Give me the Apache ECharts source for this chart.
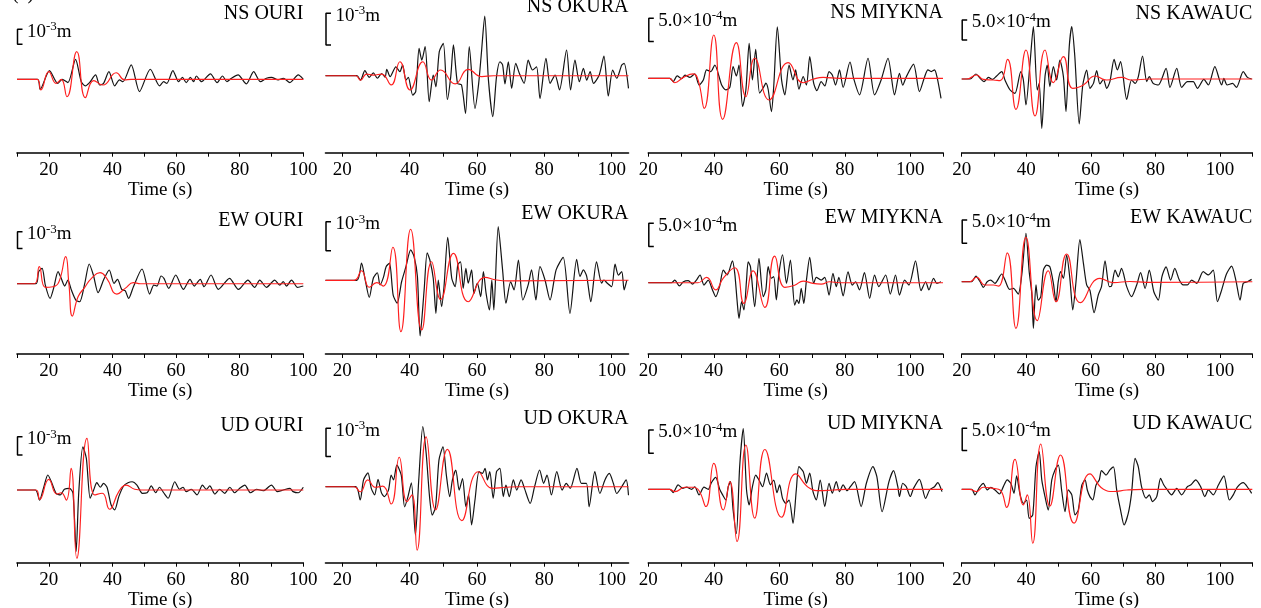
<!DOCTYPE html>
<html><head><meta charset="utf-8">
<script src="https://cdn.jsdelivr.net/npm/echarts@6/dist/echarts.min.js"></script>
<style>html,body{margin:0;padding:0;background:#fff}#c{width:1261px;height:608px}</style>
</head><body><div id="c"></div><script>
// ---------------- DATA (amplitudes in multiples of each panel's scale bar, time in s) ----------------
const stations = ['OURI', 'OKURA', 'MIYKNA', 'KAWAUC'];
const components = ['NS', 'EW', 'UD'];
const scaleBarText = [['10', '-3'], ['10', '-3'], ['5.0×10', '-4'], ['5.0×10', '-4']];
const xRanges = [[10, 100], [15, 105], [20, 110], [20, 110]];
const xTickValues = [[10,20,30,40,50,60,70,80,90,100],[20,30,40,50,60,70,80,90,100],[20,30,40,50,60,70,80,90,100,110],[20,30,40,50,60,70,80,90,100,110]];
const xLabelValues = [20, 40, 60, 80, 100];
const xAxisName = 'Time (s)';

// observed (black) and synthetic (red) traces
const obs_NS_OURI = [[10,0],[16.5,0],[17.3,-0.67],[20.2,0.58],[22.8,-0.27],[24.2,0],[26.0,-0.22],[28.4,1.33],[30.2,-0.16],[31.5,-0.44],[32.8,-0.22],[34.7,0.29],[36.0,-0.38],[37.2,-0.27],[38.9,0.51],[40.7,-0.44],[42.2,-0.04],[43.3,-0.16],[45.9,0.96],[48.5,-0.82],[51.9,0.67],[54.8,-0.44],[56.1,-0.16],[57.1,-0.27],[59.0,0.58],[60.8,-0.16],[62.0,0.13],[63.2,-0.22],[64.5,0.13],[65.5,-0.16],[66.4,0.22],[68.0,-0.16],[70.8,0.36],[72.9,-0.22],[74.6,0.22],[76.0,-0.16],[77.4,0.07],[79.5,0.29],[82.1,-0.31],[84.4,0.51],[86.5,-0.16],[88.4,0.07],[90.0,0.13],[92.1,-0.04],[93.7,0.07],[95.8,-0.22],[98.4,0.29],[100,0]];
const syn_NS_OURI = [[10,0],[16.3,0],[17.5,-0.71],[20.0,0.51],[22.3,-0.27],[23.9,0],[25.7,-1.16],[28.8,1.84],[31.5,-1.22],[34.1,-0.09],[37.0,-0.38],[41.2,0.44],[43.8,-0.04],[45.9,0],[100,0]];

const obs_NS_OKURA = [[15,0],[24.3,0],[25.4,-0.14],[26.7,0.16],[28.0,-0.05],[29.2,0.09],[30.4,-0.08],[31.7,0.07],[32.7,-0.05],[33.2,0.2],[34.2,-0.03],[35.9,0.28],[37.1,0.13],[37.9,0.34],[38.9,-0.14],[39.6,-0.05],[40.9,-0.61],[41.8,-0.5],[42.8,0.86],[43.6,0.49],[44.6,0.92],[45.8,-0.82],[47.0,0.02],[47.8,-0.35],[48.8,0.76],[50.0,1.02],[51.2,-0.75],[52.2,-0.03],[53.0,0.97],[54.2,-0.24],[55.4,-0.29],[56.6,-1.19],[57.7,0.92],[59.4,-1.03],[60.5,-0.24],[61.3,0.71],[62.3,1.88],[63.4,-0.14],[64.7,-1.29],[65.8,-0.03],[66.8,0.44],[67.6,0.34],[68.3,-0.26],[69.3,0.44],[70.3,-0.4],[71.5,0.39],[72.6,0.07],[74.0,-0.24],[75.2,0.49],[76.5,0.18],[77.7,0.28],[78.7,-0.72],[80.5,0.55],[81.7,-0.24],[83.2,0.02],[84.5,-0.45],[86.6,0.81],[87.8,-0.45],[89.1,0.49],[90.4,-0.19],[91.6,0.23],[92.6,-0.14],[93.6,0.13],[94.6,-0.24],[96.3,0.02],[97.7,0.62],[99.0,-0.64],[100.3,0.18],[101.5,-0.08],[103.0,0.34],[103.7,0.39],[105.0,-0.4]];
const syn_NS_OKURA = [[15,0],[24,0],[25.4,-0.14],[27.2,0.05],[29.2,0.02],[31.7,0.05],[34.5,-0.29],[37.1,0.44],[40.1,-0.45],[43.9,0.44],[46.5,-0.14],[49.2,0.18],[53.5,-0.26],[57.4,0.2],[61.4,-0.03],[64.9,0],[105,0]];

const obs_NS_MIYKNA = [[20,0],[26.6,0],[27.6,-0.14],[28.8,0.1],[30.2,-0.01],[31.2,0.14],[32.7,0.04],[34.2,0.19],[35.5,-0.29],[36.8,-0.07],[37.8,0.36],[39.1,0.29],[40.3,0.57],[42.4,-0.29],[43.7,-0.5],[44.9,-0.39],[45.9,0.5],[46.9,0.1],[47.7,0.57],[48.8,-1.21],[49.8,-0.5],[50.8,1.5],[51.8,-0.07],[52.8,1.24],[54.0,-0.64],[55.3,-0.36],[55.9,-0.21],[56.6,-0.47],[57.6,-1.43],[58.3,-0.36],[59.4,2.21],[60.7,-0.07],[61.7,-0.71],[63.0,0.57],[64.2,-0.07],[65.0,0.36],[66.0,-0.47],[67.3,0.07],[68.3,-0.29],[69.3,0.93],[70.5,-0.21],[71.5,-0.53],[72.8,-0.14],[73.9,-0.33],[75.2,0.29],[76.2,0.14],[77.2,-0.29],[78.4,0.36],[79.5,-0.39],[81.6,0.7],[82.7,0],[84.5,-0.71],[87.1,0.86],[89.1,-0.71],[91.1,-0.07],[93.2,0.86],[95.2,-0.71],[96.7,0.21],[97.7,-0.29],[98.8,0.07],[101.0,0.61],[102.8,-0.57],[104.4,0.07],[105.4,0.36],[106.4,0.29],[107.4,0.36],[108.2,0.04],[109.4,-0.86]];
const syn_NS_MIYKNA = [[20,0],[26.5,0],[28.1,-0.19],[30.7,0.04],[33.7,0.19],[35.2,-0.07],[37.1,-1.29],[40.0,1.86],[42.7,-1.76],[46.9,1.53],[49.8,-0.79],[52.5,0.86],[56.9,-0.93],[62.7,0.67],[67.3,-0.19],[70.3,-0.04],[73.4,0.04],[78.4,0],[110,0]];

const obs_NS_KAWAUC = [[20,0],[22.6,0],[24.4,0.25],[25.7,0.03],[26.9,-0.13],[28.3,0.08],[29.6,-0.02],[30.8,0.15],[32.4,0.37],[33.4,-0.05],[35.0,-0.55],[36.5,-0.72],[38.3,0.37],[39.1,-0.05],[39.9,-1.3],[41.2,0.87],[42.2,2.62],[43.4,-0.55],[44.0,-0.22],[44.8,-2.47],[45.8,0.12],[46.5,0.7],[47.3,-0.38],[48.4,0.62],[49.4,-0.05],[50.4,0.95],[51.5,0.12],[52.3,-1.63],[53.3,1.6],[54.1,2.62],[55.0,1.2],[56.4,-2.25],[57.5,-0.3],[58.7,0.45],[59.7,-0.47],[60.8,-0.22],[61.8,0.42],[62.8,-0.25],[63.9,-0.02],[64.9,-0.47],[65.9,-0.13],[67.2,0.98],[68.2,0.45],[69.2,0.87],[71.1,-1.02],[72.6,-0.05],[73.7,-0.22],[74.7,0.12],[76.0,1.15],[77.3,-0.13],[78.1,0.12],[79.3,-0.22],[80.9,-0.3],[83.3,0.53],[84.5,-0.42],[86.6,0.53],[88.1,-0.42],[89.9,-0.13],[91.7,-0.13],[93.0,-0.47],[95.0,-0.02],[96.4,-0.3],[98.4,0.62],[100.5,-0.3],[101.2,0.03],[102.2,-0.3],[103.9,-0.22],[105.1,-0.42],[107.2,0.37],[108.5,0.08],[109.8,0]];
const syn_NS_KAWAUC = [[20,0],[21.5,0],[24.6,0.2],[26.7,-0.02],[29.8,-0.05],[31.9,-0.08],[34.2,0.98],[36.8,-1.52],[39.9,1.45],[42.7,-1.85],[45.8,1.45],[48.4,-0.18],[51.5,1.12],[54.4,-0.47],[57.7,-0.3],[61.3,0.15],[64.9,-0.05],[69.5,0.08],[72.6,-0.05],[78.3,0],[110,0]];

const obs_EW_OURI = [[10,0],[16,0],[16.8,0.72],[17.9,0.92],[18.9,-0.08],[20.4,-0.88],[21.5,-0.28],[22.9,0.72],[23.9,0.32],[25.0,-0.14],[26.0,0.22],[27.1,-0.38],[28.5,-0.98],[29.7,-1.08],[31.3,0.02],[32.7,1.18],[34.0,0.52],[35.5,-0.54],[37.3,0.26],[39.0,0.82],[40.5,0.02],[41.6,0.26],[42.9,-0.34],[44.0,-0.42],[45.1,-0.88],[46.6,-0.18],[49.3,0.88],[51.7,-0.62],[53.0,-0.08],[54.0,-0.14],[55.3,0.46],[56.2,0.32],[57.7,-0.28],[59.9,0.52],[62.3,-0.34],[64.4,0.26],[65.7,-0.14],[67.6,0.26],[68.8,-0.18],[71.0,0.52],[73.3,-0.34],[76.8,0.32],[79.6,-0.34],[82.6,0.22],[84.7,-0.22],[86.3,0.22],[88.4,-0.22],[91.0,0.22],[92.6,-0.08],[93.7,0.12],[94.7,-0.14],[96.3,0.22],[98.2,-0.22],[100,-0.14]];
const syn_EW_OURI = [[10,0],[15.5,0],[17.0,1.02],[18.9,-0.22],[21.3,-0.18],[23.2,0.12],[25.3,1.62],[26.3,0.02],[27.4,-1.94],[29.2,-0.78],[31.3,-0.22],[33.4,0.32],[36.1,0.66],[38.2,0.32],[41.4,-0.62],[44.0,-0.28],[46.6,0.06],[48.8,0],[100,0]];

const obs_EW_OKURA = [[15,0],[24.3,0],[25.7,0.59],[26.7,0.07],[28.0,-0.59],[29.2,0.07],[30.4,0.26],[31.2,-0.16],[32.2,0.1],[33.0,0.47],[34.0,0.59],[35.1,-0.51],[36.3,-0.79],[37.6,-0.05],[38.9,0.47],[40.3,1.05],[41.3,0.82],[42.3,0.13],[43.1,-1.92],[44.3,-0.33],[45.2,0.95],[46.0,0.7],[47.0,0.07],[47.8,-1.14],[48.5,0.01],[49.5,-0.91],[50.2,-0.22],[51.3,1.48],[52.5,0.07],[53.5,-0.22],[54.3,0.53],[55.1,0.64],[55.9,-0.28],[56.7,0.41],[57.4,-0.1],[58.4,0.36],[59.1,-0.45],[60.1,-0.1],[61.1,-0.56],[61.9,0.3],[62.7,-0.45],[63.7,-1.02],[64.4,0.01],[65.0,-1.02],[66.3,1.85],[67.6,0.36],[68.6,-0.79],[70.0,-0.05],[71.0,-0.33],[72.3,0.7],[73.6,-0.68],[75.2,-0.16],[76.2,0.36],[77.5,-0.68],[78.7,0.47],[80.2,0.01],[81.7,-0.68],[83.5,0.36],[85.6,0.79],[87.6,-1.14],[89.6,0.72],[90.6,0.13],[91.6,0.36],[92.6,0.13],[93.8,-0.74],[95.5,0.64],[97.0,-0.1],[97.7,0.01],[98.7,-0.1],[100.0,-0.22],[101.0,0.56],[102.0,0.18],[103.0,0.3],[103.7,-0.33],[104.5,0.01]];
const syn_EW_OKURA = [[15,0],[23.5,0],[25.7,0.33],[28.0,-0.24],[30.2,-0.08],[32.2,-0.2],[35.0,1.14],[37.4,-1.77],[40.3,1.76],[43.6,-1.71],[46.5,0.64],[49.2,-0.66],[53.0,0.93],[57.4,-0.74],[62.4,0.1],[65.8,0.01],[69.3,-0.02],[105,0]];

const obs_EW_MIYKNA = [[20,0],[27.1,0],[28.1,0.11],[29.5,-0.14],[30.7,0.04],[32.2,0.09],[33.5,-0.06],[34.7,0.11],[35.8,0.33],[37.0,-0.1],[38.3,0.11],[39.6,-0.31],[40.6,-0.6],[41.8,-0.14],[42.9,0.54],[44.1,0.33],[45.7,0.94],[46.4,0.4],[47.1,-0.74],[47.7,-1.53],[48.5,-0.81],[49.2,-1.17],[50.0,0.11],[50.5,0.9],[51.2,0.69],[52.5,-1.03],[53.8,1.04],[55.1,-0.6],[55.9,-0.31],[56.6,0.69],[57.6,0.19],[58.3,0.26],[59.1,-0.74],[59.9,0.4],[61.0,1.19],[62.2,-0.03],[63.4,0.97],[64.7,-0.96],[65.4,-0.74],[66.0,-0.89],[66.7,-0.24],[67.5,-0.89],[68.3,0.11],[69.3,1.09],[70.5,-0.03],[71.3,0.23],[72.8,0.11],[73.9,0.23],[75.2,-0.53],[76.4,0.4],[77.4,-0.17],[78.2,0.23],[79.5,-0.57],[81.0,0.47],[82.3,-0.1],[83.3,0.04],[84.5,-0.31],[86.0,0.43],[87.6,-0.67],[89.1,0.33],[90.4,-0.17],[92.5,0.33],[93.9,-0.49],[95.5,0.33],[96.7,-0.53],[98.3,0.11],[99.6,-0.1],[101.6,0.94],[103.3,-0.34],[104.7,0.04],[105.7,-0.31],[107.1,0.19],[108.1,-0.03],[109.4,0.04]];
const syn_EW_MIYKNA = [[20,0],[33,0],[35.2,0],[37.8,0.23],[40.6,-0.31],[42.9,0.2],[46.4,0.64],[49.2,-0.89],[52.0,0.51],[55.6,-1.06],[58.6,1.14],[61.7,-0.2],[64.7,-0.11],[67.3,0.07],[70.3,-0.03],[72.8,-0.06],[75.4,0.04],[78.4,0],[110,0]];

const obs_EW_KAWAUC = [[20,0],[23.1,0],[24.4,0.24],[25.7,0],[26.7,-0.24],[27.9,0],[29.0,0.07],[30.3,-0.07],[32.4,0.33],[33.4,0.07],[34.8,-0.33],[36.0,-0.29],[37.5,-0.53],[38.6,0.29],[39.9,2.07],[40.9,0.43],[41.7,-0.5],[42.2,-2.0],[43.0,-0.14],[43.7,-0.79],[44.5,-0.64],[45.3,0.5],[46.3,0.71],[47.3,0.64],[48.4,-0.07],[49.2,-0.86],[49.9,0],[50.6,0.43],[51.5,0.14],[52.5,1.14],[53.5,0.14],[54.4,-1.21],[55.4,0],[56.6,1.81],[57.7,0.79],[58.7,-0.14],[59.7,-0.36],[61.0,-1.33],[62.3,-0.57],[63.3,-0.21],[64.4,0.9],[65.7,-0.21],[66.4,-0.19],[67.5,0.5],[68.5,0.21],[69.5,0.57],[71.1,-0.21],[72.6,-0.64],[74.2,-0.14],[75.4,0.39],[76.8,-0.29],[78.1,0.5],[79.5,-0.43],[80.9,-0.79],[82.0,0.21],[83.3,0.64],[84.7,0.07],[86.0,0.57],[87.4,0.07],[88.6,-0.14],[89.9,-0.14],[91.2,0.07],[92.8,-0.07],[94.8,0.43],[96.4,0.29],[97.9,0.5],[99.2,-0.86],[100.5,-0.36],[102.0,0.33],[103.6,0.67],[104.9,0.07],[106.2,-0.79],[107.2,-0.07],[108.5,0],[109.8,0.1]];
const syn_EW_KAWAUC = [[20,0],[22.5,0],[24.6,0.19],[27.2,-0.14],[29.8,-0.14],[31.4,-0.19],[34.1,1.24],[36.8,-2.0],[39.9,1.9],[43.4,-1.67],[46.8,0.47],[49.2,-0.86],[52.5,1.19],[56.8,-0.9],[62.8,0.14],[67.0,-0.04],[72.1,0.01],[77.3,-0.03],[110,0]];

const obs_UD_OURI = [[10,0],[15.8,0],[17.1,-0.55],[18.3,0.09],[19.7,0.82],[21.0,0.36],[22.3,-0.18],[23.6,-0.27],[24.9,0.04],[26.5,0.09],[27.6,-0.18],[28.6,-3.35],[29.4,-0.18],[30.7,2.36],[31.8,1.73],[33.0,-0.45],[34.1,0],[35.1,0.4],[36.2,0.15],[37.2,0.36],[38.3,0.15],[39.6,-0.82],[40.7,-1.09],[42.0,-0.36],[43.5,0.22],[44.9,0.4],[46.2,0.45],[47.7,0.27],[49.4,-0.18],[50.9,-0.15],[52.2,0.22],[53.6,-0.15],[54.8,0.15],[56.1,-0.15],[57.5,-0.45],[59.6,0.45],[61.1,0.04],[62.2,0.15],[63.2,-0.09],[64.8,0.04],[66.6,-0.27],[68.3,0.27],[69.5,0.04],[70.6,0.22],[72.2,-0.22],[73.7,0.04],[75.3,-0.18],[76.9,0.15],[78.4,-0.15],[80.0,0.09],[81.6,0.27],[83.4,-0.15],[85.3,0.04],[87.4,-0.04],[90.0,0.27],[91.8,-0.09],[93.7,0],[95.8,0.09],[96.8,-0.09],[98.4,-0.15],[100,0.15]];
const syn_UD_OURI = [[10,0],[16,0],[17.1,-0.51],[20.0,0.58],[22.5,-0.22],[23.9,-0.15],[25.5,-0.55],[27.0,1.18],[28.8,-3.73],[32.0,2.82],[34.4,-0.27],[36.8,-0.18],[39.1,-1.05],[42.0,-0.09],[44.3,0.27],[47.0,0.04],[49.1,0],[100,0]];

const obs_UD_OKURA = [[15,0],[24,0],[25.3,-0.47],[26.3,0.24],[27.6,0.49],[28.6,-0.06],[29.6,-0.29],[30.6,0.26],[31.6,-0.21],[32.5,-0.35],[33.7,-0.12],[34.5,0.41],[35.2,0.24],[36.2,0.76],[37.5,0.41],[38.5,-0.71],[39.5,-0.35],[40.5,0.14],[41.7,-1.71],[42.7,0.24],[43.9,2.12],[44.9,1.18],[45.9,-0.35],[46.7,-1.0],[47.7,-0.71],[48.7,0.94],[49.9,1.41],[50.9,0.41],[51.9,-0.35],[52.7,0.24],[53.7,0.59],[54.7,-0.12],[55.7,0.29],[56.7,-0.71],[57.5,-0.29],[58.4,-1.35],[59.4,-0.47],[60.6,0.53],[61.6,0.47],[62.4,0.65],[63.1,0.24],[63.8,0.53],[64.8,-0.41],[65.8,0.53],[66.8,0.65],[67.8,-0.35],[68.6,0.06],[69.6,-0.35],[70.8,0.24],[71.8,-0.12],[73.1,0.24],[74.1,-0.06],[75.8,-0.59],[77.1,0],[78.6,0.59],[79.8,0.12],[80.8,0.41],[82.1,-0.29],[83.7,0.53],[85.3,-0.12],[86.5,0.12],[87.7,-0.06],[89.7,0.65],[91.0,0.12],[92.5,0.12],[93.3,-0.71],[95.0,0.53],[96.5,-0.24],[98.0,0.24],[99.3,0.47],[100.5,0.12],[101.5,-0.24],[103.0,0],[104.3,0.24],[105,-0.3]];
const syn_UD_OKURA = [[15,0],[23.5,0],[25.3,-0.18],[27.6,0.24],[29.8,-0.02],[32.0,0.02],[34.5,-0.61],[36.9,1.04],[39.2,-0.53],[40.7,-0.29],[42.2,-2.24],[44.9,1.76],[47.7,-0.82],[51.2,1.32],[55.5,-1.2],[60.4,0.53],[64.6,-0.06],[68.6,-0.02],[72.6,0],[105,0]];

const obs_UD_MIYKNA = [[20,0],[26.6,0],[27.6,-0.14],[29.1,0.19],[30.5,0.04],[31.7,0.09],[33.2,0],[34.2,0.11],[35.5,-0.24],[37.0,0.09],[38.3,0],[39.3,0.29],[40.6,0.51],[41.8,0],[42.7,-0.24],[43.7,-0.46],[44.4,0.11],[45.1,0.33],[45.9,-0.89],[46.9,-1.9],[47.9,0.97],[49.0,2.61],[50.0,-0.03],[50.8,-0.67],[51.8,0.11],[52.8,0.61],[53.8,0.4],[54.9,0.11],[56.1,0.69],[57.3,0.19],[58.3,0.4],[59.3,-0.14],[60.1,0.19],[61.0,-0.39],[62.0,-0.6],[63.0,-0.46],[64.2,-1.46],[65.2,-0.03],[66.0,0.97],[67.3,0.76],[68.3,0.26],[69.3,0.69],[70.3,-0.1],[71.3,-0.46],[72.5,0.4],[73.9,-0.74],[75.2,0.26],[76.2,-0.17],[77.4,0.33],[78.4,-0.1],[79.5,0.19],[80.7,-0.06],[81.7,0.11],[83.0,0.33],[85.0,-0.74],[86.6,0.26],[88.6,0.97],[89.8,0.54],[91.4,-0.96],[93.5,0.33],[94.9,0.8],[96.2,0.11],[96.7,-0.31],[97.7,0.26],[98.8,0.11],[100.0,-0.31],[101.0,0.04],[102.8,0.43],[104.7,-0.39],[105.9,-0.03],[107.4,0.11],[108.4,0.29],[109.7,-0.1]];
const syn_UD_MIYKNA = [[20,0],[26.5,0],[28.1,-0.1],[31.2,0.09],[33.7,0.09],[35.5,-0.06],[37.6,-0.74],[40.0,1.11],[42.9,-0.89],[44.9,0.33],[47.1,-2.24],[49.8,1.9],[52.5,-1.24],[55.6,1.71],[60.7,-1.2],[65.0,0.66],[69.3,0.04],[72.3,-0.06],[76.4,-0.03],[80.5,0],[110,0]];

const obs_UD_KAWAUC = [[20,0],[23.1,0],[24.1,-0.25],[25.5,0.09],[26.7,0.27],[27.9,-0.03],[29.0,0.09],[30.3,-0.03],[31.7,-0.21],[32.9,0.12],[34.1,0.42],[35.2,0.27],[36.2,-0.18],[37.0,0.6],[38.1,-0.25],[39.1,-0.63],[40.1,-0.48],[40.9,-1.3],[42.0,-1.15],[43.0,1.01],[44.0,1.69],[44.8,0.42],[45.8,-0.33],[46.8,-0.93],[47.9,0.42],[48.9,0.87],[49.9,1.09],[51.0,-0.1],[52.0,-1.0],[53.0,-0.03],[54.1,-0.25],[55.1,-1.15],[56.1,-0.93],[57.2,0.19],[58.2,0.42],[58.9,-0.03],[59.7,-0.33],[60.6,-0.48],[61.6,0.19],[62.6,0.42],[63.3,0.84],[64.7,0.64],[65.9,0.87],[67.0,1.01],[68.0,-0.03],[69.2,-0.93],[70.3,-1.6],[71.6,-1.07],[72.6,-0.18],[73.7,1.39],[74.7,1.01],[75.7,0.12],[77.1,-0.4],[78.1,-0.25],[79.1,-0.55],[80.4,-0.33],[81.6,0.49],[82.6,0.19],[83.7,-0.03],[85.0,-0.25],[86.6,0.04],[88.1,-0.25],[89.9,0.12],[90.9,0.19],[92.5,0.42],[94.0,0.12],[95.3,-0.33],[96.4,-0.03],[97.9,-0.25],[99.5,0.19],[101.2,0.6],[102.9,-0.48],[104.1,-0.25],[105.3,0.09],[107.2,0.3],[108.8,0.04],[109.8,-0.18]];
const syn_UD_KAWAUC = [[20,0],[22.5,0],[24.6,-0.1],[26.7,0.09],[29.8,0.04],[31.9,-0.03],[33.9,-0.81],[36.5,1.34],[39.1,-0.7],[40.3,-0.25],[42.0,-2.42],[44.5,2.03],[47.3,-0.75],[50.6,1.54],[54.8,-1.52],[59.7,0.69],[63.9,0],[67.0,-0.1],[71.1,-0.03],[76.2,0],[110,0]];

const observed = {
  NS: [obs_NS_OURI, obs_NS_OKURA, obs_NS_MIYKNA, obs_NS_KAWAUC],
  EW: [obs_EW_OURI, obs_EW_OKURA, obs_EW_MIYKNA, obs_EW_KAWAUC],
  UD: [obs_UD_OURI, obs_UD_OKURA, obs_UD_MIYKNA, obs_UD_KAWAUC]
};
const synthetic = {
  NS: [syn_NS_OURI, syn_NS_OKURA, syn_NS_MIYKNA, syn_NS_KAWAUC],
  EW: [syn_EW_OURI, syn_EW_OKURA, syn_EW_MIYKNA, syn_EW_KAWAUC],
  UD: [syn_UD_OURI, syn_UD_OKURA, syn_UD_MIYKNA, syn_UD_KAWAUC]
};

// ---------------- LAYOUT (pixels) ----------------
const colLeft = [17, 325.5, 648.3, 961.7];
const colRight = [303.3, 628.5, 943, 1252.3];
const rowAxisY = [152.7, 354, 562.7];
const zeroY = [[79.3, 75.7, 78.3, 79], [283.7, 280.3, 282.7, 281.7], [490, 486.7, 489.3, 489.3]];
const barPx = [[15, 31.7, 23.3, 20], [16.7, 29, 23.3, 23.3], [18.3, 28.3, 23.3, 22.3]];
const barTop = [[29.3, 13.3, 18.3, 20], [231.7, 221.7, 223.3, 220], [436.7, 428.3, 430, 428.3]];
const titleY = [[15, 8, 13.3, 15], [221.7, 215, 218.3, 218.3], [426.7, 420, 425, 425]];
const H = 150;
const FONT = '"Liberation Serif", "Times New Roman", serif';

const grids = [], xAxes = [], yAxes = [], series = [], titles = [], graphics = [];
components.forEach((comp, r) => {
  stations.forEach((st, c) => {
    const i = grids.length;
    const [xmin, xmax] = xRanges[c];
    const left = colLeft[c], width = colRight[c] - colLeft[c];
    const top = rowAxisY[r] - H;
    const bpx = barPx[r][c];
    const ymin = -(rowAxisY[r] - zeroY[r][c]) / bpx;
    const ymax = (zeroY[r][c] - top) / bpx;
    const pps = width / (xmax - xmin);
    grids.push({ left, top, width, height: H, containLabel: false, outerBoundsMode: 'none' });
    xAxes.push({
      gridIndex: i, type: 'value', min: xmin, max: xmax,
      axisLine: { show: true, onZero: false, lineStyle: { color: '#000', width: 1.6 } },
      axisTick: { show: true, customValues: xTickValues[c], length: 4, inside: false, lineStyle: { color: '#000', width: 1 } },
      axisLabel: { customValues: xLabelValues, fontFamily: FONT, fontSize: 19, color: '#000', margin: 8 },
      splitLine: { show: false },
      name: xAxisName, nameLocation: 'middle', nameGap: 20,
      nameTextStyle: { fontFamily: FONT, fontSize: 19, color: '#000' }
    });
    yAxes.push({ gridIndex: i, type: 'value', min: ymin, max: ymax, show: false });
    series.push({
      type: 'line', xAxisIndex: i, yAxisIndex: i, data: observed[comp][c],
      symbol: 'none', smooth: 0.25, clip: false, silent: true,
      lineStyle: { color: '#141414', width: 1.2 }
    });
    series.push({
      type: 'line', xAxisIndex: i, yAxisIndex: i, data: synthetic[comp][c],
      symbol: 'none', smooth: 0.5, clip: false, silent: true,
      lineStyle: { color: '#ff1f1f', width: 1.15 }
    });
    // scale bar: one unit of the panel's amplitude scale
    const bx = xmin + 0.5 / pps, btick = 5 / pps;
    const bTopVal = (zeroY[r][c] - barTop[r][c]) / bpx;
    series.push({
      type: 'line', xAxisIndex: i, yAxisIndex: i, symbol: 'none', clip: false, silent: true,
      data: [[bx + btick, bTopVal], [bx, bTopVal], [bx, bTopVal - 1], [bx + btick, bTopVal - 1]],
      lineStyle: { color: '#000', width: 1.5 }
    });
    titles.push({
      text: comp + ' ' + st, right: 1261 - colRight[c], top: titleY[r][c] - 11, padding: 0,
      textStyle: { fontFamily: FONT, fontSize: 20, fontWeight: 'normal', color: '#000' }
    });
    graphics.push({
      type: 'text', left: left + 10, top: barTop[r][c] - 9,
      style: {
        text: '{a|' + scaleBarText[c][0] + '}{s|' + scaleBarText[c][1] + '}{a|m}',
        rich: {
          a: { fontFamily: FONT, fontSize: 19, color: '#000', lineHeight: 21, verticalAlign: 'bottom' },
          s: { fontFamily: FONT, fontSize: 13, color: '#000', lineHeight: 21, verticalAlign: 'top' }
        }
      }
    });
  });
});
graphics.push({ type: 'text', left: 12, top: -16, style: { text: '(a)', font: '20px ' + FONT, fill: '#000' } });

const chart = echarts.init(document.getElementById('c'), null, { renderer: 'canvas' });
chart.setOption({
  backgroundColor: '#fff', animation: false,
  title: titles, grid: grids, xAxis: xAxes, yAxis: yAxes, series, graphic: graphics
});
</script></body></html>
